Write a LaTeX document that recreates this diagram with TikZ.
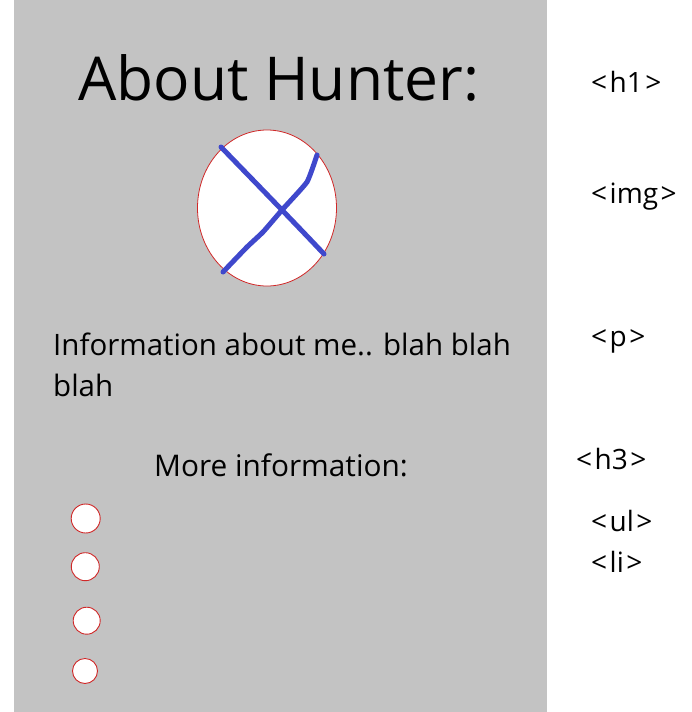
\documentclass[tikz,border=0pt]{standalone}
\usepackage{fontspec}
\setmainfont{Open Sans}
\usetikzlibrary{shapes.geometric}
\definecolor{panel}{HTML}{C3C3C3}
\definecolor{xblue}{HTML}{3F48CC}
\definecolor{ored}{HTML}{D02828}
\newcommand\tagtext[1]{<\kern2.5pt#1\kern2.5pt>}
\tikzset{
  txt/.style={anchor=base west, inner sep=0pt, text=black},
  tag/.style={anchor=west, inner sep=0pt, font=\fontsize{28}{32}\selectfont},
  bullet/.style={circle, draw=ored, fill=white, line width=0.9pt, inner sep=0pt},
  xstroke/.style={draw=xblue, line width=5pt, line cap=round, line join=round}
}
\begin{document}
\begin{tikzpicture}[x=1pt,y=-1pt]
\useasboundingbox (0,0) rectangle (691,712);
\fill[white] (0,0) rectangle (691,712);
\fill[panel] (14,0) rectangle (547,712);
\node[txt, font=\fontsize{60.5}{72}\selectfont] (title) at (78,100.7) {About Hunter:};
\node[ellipse, draw=ored, fill=white, line width=0.8pt, minimum width=139pt, minimum height=156pt, inner sep=0pt] (img) at (267,208) {};
\draw[xstroke] (221,147) .. controls (250,177) and (290,218) .. (324,254);
\draw[xstroke] plot[smooth, tension=0.25] coordinates {(317,155) (307,182) (282,210) (263,232) (247,247) (223,272)};
\node[txt, font=\fontsize{29.5}{41}\selectfont] (p1) at (53,355) {Information about me.. blah blah};
\node[txt, font=\fontsize{29.5}{41}\selectfont] (p2) at (53,396) {blah};
\node[txt, font=\fontsize{29.8}{34}\selectfont] (h3) at (154,476.7) {More information:};
\node[bullet, minimum size=29pt] (b1) at (85.7,518.5) {};
\node[bullet, minimum size=28pt] (b2) at (85.3,566.7) {};
\node[bullet, minimum size=27pt] (b3) at (86.7,620.7) {};
\node[bullet, minimum size=25pt] (b4) at (85,671) {};
\node[tag] (th1) at (591,82) {\tagtext{h1}};
\node[tag] (timg) at (591,197) {\tagtext{img}};
\node[tag] (tp) at (591,341) {\tagtext{p}};
\node[tag] (th3) at (576,459) {\tagtext{h3}};
\node[tag] (tul) at (591,521) {\tagtext{ul}};
\node[tag] (tli) at (591,562) {\tagtext{li}};
\end{tikzpicture}
\end{document}
